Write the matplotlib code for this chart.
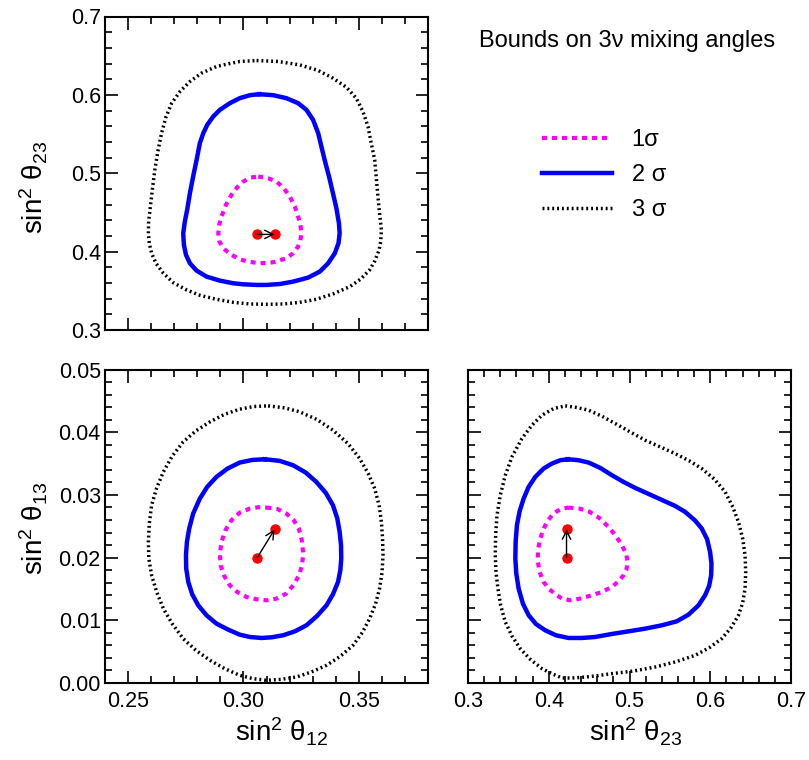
import numpy as np
import matplotlib
matplotlib.use('Agg')
import matplotlib.pyplot as plt
from matplotlib.ticker import MultipleLocator, FormatStrFormatter

plt.rcParams['font.family'] = ['Liberation Sans', 'DejaVu Sans']
plt.rcParams['mathtext.fontset'] = 'custom'
plt.rcParams['mathtext.rm'] = 'Liberation Sans'
plt.rcParams['mathtext.it'] = 'Liberation Sans:italic'

# best fit points, old -> new
s12_fit = [0.306, 0.3135]
s23_fit = [0.422, 0.422]
s13_fit = [0.0200, 0.0245]

sigma_labels = ['1\u03c3', '2 \u03c3', '3 \u03c3']

# --- sin^2 th12 (x) vs sin^2 th23 (y) ---
a_1s_x = [0.3064, 0.3107, 0.3143, 0.3175, 0.3201, 0.3223, 0.3237, 0.3247, 0.3251, 0.3247,
          0.3237, 0.3215, 0.3186, 0.3129, 0.3071, 0.3020, 0.2984, 0.2944, 0.2912, 0.2895,
          0.2891, 0.2895, 0.2905, 0.2924, 0.2948, 0.2973, 0.2999, 0.3031]
a_1s_y = [0.4958, 0.4936, 0.4894, 0.4809, 0.4702, 0.4575, 0.4447, 0.4341, 0.4234, 0.4141,
          0.4064, 0.3979, 0.3915, 0.3864, 0.3851, 0.3873, 0.3902, 0.3966, 0.4043, 0.4136,
          0.4234, 0.4341, 0.4447, 0.4596, 0.4724, 0.4821, 0.4894, 0.4945]
a_2s_x = [0.3068, 0.3129, 0.3186, 0.3237, 0.3273, 0.3302, 0.3324, 0.3338, 0.3352, 0.3371,
          0.3388, 0.3403, 0.3414, 0.3417, 0.3412, 0.3396, 0.3367, 0.3331, 0.3280, 0.3215,
          0.3158, 0.3100, 0.3057, 0.2999, 0.2956, 0.2898, 0.2840, 0.2797, 0.2768, 0.2751,
          0.2742, 0.2739, 0.2746, 0.2756, 0.2768, 0.2782, 0.2797, 0.2811, 0.2826, 0.2843,
          0.2869, 0.2898, 0.2941, 0.2984, 0.3028]
a_2s_y = [0.6009, 0.5996, 0.5958, 0.5894, 0.5809, 0.5681, 0.5511, 0.5340, 0.5170, 0.4958,
          0.4745, 0.4553, 0.4362, 0.4234, 0.4107, 0.3979, 0.3851, 0.3745, 0.3668, 0.3617,
          0.3587, 0.3575, 0.3575, 0.3583, 0.3596, 0.3630, 0.3681, 0.3758, 0.3851, 0.3958,
          0.4085, 0.4234, 0.4383, 0.4532, 0.4745, 0.4958, 0.5170, 0.5383, 0.5511, 0.5617,
          0.5724, 0.5809, 0.5894, 0.5958, 0.5996]
a_3s_x = [0.3057, 0.3150, 0.3244, 0.3324, 0.3388, 0.3446, 0.3489, 0.3518, 0.3540, 0.3554,
          0.3569, 0.3576, 0.3583, 0.3590, 0.3598, 0.3595, 0.3588, 0.3570, 0.3547, 0.3507,
          0.3461, 0.3388, 0.3316, 0.3244, 0.3172, 0.3100, 0.3028, 0.2956, 0.2883, 0.2811,
          0.2754, 0.2696, 0.2653, 0.2621, 0.2602, 0.2592, 0.2588, 0.2589, 0.2595, 0.2605,
          0.2616, 0.2629, 0.2645, 0.2664, 0.2689, 0.2725, 0.2768, 0.2818, 0.2883, 0.2934,
          0.2984]
a_3s_y = [0.6438, 0.6426, 0.6383, 0.6311, 0.6213, 0.6098, 0.5958, 0.5787, 0.5596, 0.5383,
          0.5170, 0.4936, 0.4702, 0.4490, 0.4277, 0.4128, 0.4021, 0.3885, 0.3766, 0.3647,
          0.3553, 0.3460, 0.3392, 0.3353, 0.3332, 0.3328, 0.3332, 0.3353, 0.3392, 0.3443,
          0.3511, 0.3604, 0.3724, 0.3851, 0.3979, 0.4107, 0.4234, 0.4383, 0.4532, 0.4787,
          0.5043, 0.5277, 0.5511, 0.5715, 0.5894, 0.6043, 0.6170, 0.6277, 0.6362, 0.6396,
          0.6426]

# --- sin^2 th12 (x) vs sin^2 th13 (y) ---
b_1s_x = [0.3100, 0.3146, 0.3186, 0.3218, 0.3240, 0.3253, 0.3259, 0.3254, 0.3241, 0.3218,
          0.3186, 0.3143, 0.3100, 0.3057, 0.3013, 0.2973, 0.2941, 0.2917, 0.2901, 0.2898,
          0.2905, 0.2922, 0.2948, 0.2984, 0.3028, 0.3064]
b_1s_y = [0.02798, 0.02777, 0.02702, 0.02596, 0.02463, 0.02277, 0.02064, 0.01878, 0.01718,
          0.01569, 0.01426, 0.01346, 0.01319, 0.01335, 0.01372, 0.01452, 0.01558, 0.01707,
          0.01878, 0.02064, 0.02250, 0.02436, 0.02596, 0.02718, 0.02782, 0.02803]
b_2s_x = [0.3093, 0.3158, 0.3215, 0.3270, 0.3316, 0.3357, 0.3388, 0.3407, 0.3417, 0.3423,
          0.3424, 0.3420, 0.3410, 0.3388, 0.3360, 0.3319, 0.3273, 0.3223, 0.3172, 0.3122,
          0.3078, 0.3028, 0.2984, 0.2934, 0.2883, 0.2840, 0.2804, 0.2778, 0.2761, 0.2752,
          0.2751, 0.2755, 0.2765, 0.2782, 0.2811, 0.2843, 0.2883, 0.2931, 0.2984, 0.3039]
b_2s_y = [0.03569, 0.03542, 0.03473, 0.03356, 0.03207, 0.03032, 0.02835, 0.02622, 0.02410,
          0.02197, 0.01984, 0.01798, 0.01612, 0.01415, 0.01239, 0.01069, 0.00920, 0.00824,
          0.00761, 0.00729, 0.00718, 0.00734, 0.00771, 0.00851, 0.00947, 0.01080, 0.01239,
          0.01415, 0.01612, 0.01824, 0.02037, 0.02250, 0.02463, 0.02702, 0.02941, 0.03128,
          0.03287, 0.03420, 0.03516, 0.03558]
b_3s_x = [0.3107, 0.3179, 0.3244, 0.3319, 0.3388, 0.3453, 0.3504, 0.3541, 0.3569, 0.3588,
          0.3598, 0.3603, 0.3605, 0.3601, 0.3590, 0.3573, 0.3547, 0.3515, 0.3475, 0.3420,
          0.3360, 0.3295, 0.3230, 0.3165, 0.3100, 0.3042, 0.2984, 0.2919, 0.2855, 0.2794,
          0.2739, 0.2693, 0.2653, 0.2624, 0.2602, 0.2590, 0.2588, 0.2592, 0.2602, 0.2624,
          0.2653, 0.2691, 0.2739, 0.2794, 0.2855, 0.2919, 0.2984, 0.3045]
b_3s_y = [0.04420, 0.04388, 0.04324, 0.04202, 0.04032, 0.03819, 0.03580, 0.03340, 0.03101,
          0.02835, 0.02569, 0.02303, 0.02037, 0.01771, 0.01505, 0.01266, 0.01027, 0.00803,
          0.00601, 0.00426, 0.00282, 0.00176, 0.00096, 0.00059, 0.00043, 0.00069, 0.00122,
          0.00229, 0.00362, 0.00521, 0.00707, 0.00936, 0.01186, 0.01452, 0.01718, 0.01984,
          0.02250, 0.02543, 0.02835, 0.03112, 0.03367, 0.03617, 0.03846, 0.04021, 0.04165,
          0.04287, 0.04367, 0.04410]

# --- sin^2 th23 (x) vs sin^2 th13 (y) ---
c_1s_x = [0.4245, 0.4377, 0.4493, 0.4625, 0.4740, 0.4831, 0.4905, 0.4959, 0.4975, 0.4963,
          0.4926, 0.4864, 0.4782, 0.4658, 0.4534, 0.4390, 0.4266, 0.4163, 0.4101, 0.4006,
          0.3936, 0.3887, 0.3866, 0.3866, 0.3883, 0.3924, 0.3977, 0.4039, 0.4101, 0.4171]
c_1s_y = [0.02798, 0.02782, 0.02739, 0.02633, 0.02489, 0.02346, 0.02197, 0.02064, 0.01931,
          0.01814, 0.01718, 0.01622, 0.01532, 0.01452, 0.01399, 0.01346, 0.01319, 0.01346,
          0.01399, 0.01495, 0.01612, 0.01771, 0.01931, 0.02090, 0.02250, 0.02420, 0.02569,
          0.02675, 0.02739, 0.02782]
c_2s_x = [0.4237, 0.4369, 0.4493, 0.4637, 0.4782, 0.4926, 0.5070, 0.5235, 0.5400, 0.5565,
          0.5689, 0.5813, 0.5895, 0.5961, 0.5998, 0.6015, 0.6011, 0.5986, 0.5936, 0.5854,
          0.5730, 0.5586, 0.5400, 0.5194, 0.4988, 0.4782, 0.4575, 0.4410, 0.4245, 0.4089,
          0.3957, 0.3841, 0.3751, 0.3680, 0.3627, 0.3598, 0.3586, 0.3590, 0.3606, 0.3639,
          0.3689, 0.3751, 0.3833, 0.3936, 0.4039, 0.4142]
c_2s_y = [0.03569, 0.03553, 0.03516, 0.03431, 0.03314, 0.03207, 0.03112, 0.03016, 0.02920,
          0.02824, 0.02729, 0.02590, 0.02463, 0.02293, 0.02090, 0.01904, 0.01718, 0.01548,
          0.01399, 0.01239, 0.01090, 0.00984, 0.00920, 0.00867, 0.00824, 0.00782, 0.00734,
          0.00718, 0.00718, 0.00761, 0.00840, 0.00941, 0.01080, 0.01266, 0.01505, 0.01745,
          0.01984, 0.02250, 0.02516, 0.02739, 0.02941, 0.03128, 0.03287, 0.03420, 0.03500,
          0.03553]
c_3s_x = [0.4204, 0.4349, 0.4493, 0.4658, 0.4823, 0.5008, 0.5194, 0.5380, 0.5565, 0.5742,
          0.5895, 0.6052, 0.6184, 0.6279, 0.6349, 0.6402, 0.6431, 0.6439, 0.6431, 0.6402,
          0.6349, 0.6258, 0.6142, 0.5990, 0.5813, 0.5565, 0.5318, 0.5050, 0.4782, 0.4575,
          0.4410, 0.4287, 0.4163, 0.4039, 0.3916, 0.3771, 0.3647, 0.3544, 0.3462, 0.3404,
          0.3371, 0.3346, 0.3338, 0.3342, 0.3359, 0.3400, 0.3462, 0.3544, 0.3668, 0.3792,
          0.3916, 0.4060]
c_3s_y = [0.04420, 0.04394, 0.04351, 0.04255, 0.04138, 0.04005, 0.03872, 0.03766, 0.03659,
          0.03542, 0.03420, 0.03250, 0.03048, 0.02808, 0.02569, 0.02303, 0.02037, 0.01771,
          0.01505, 0.01282, 0.01080, 0.00883, 0.00707, 0.00564, 0.00441, 0.00335, 0.00255,
          0.00191, 0.00149, 0.00112, 0.00090, 0.00080, 0.00080, 0.00149, 0.00229, 0.00378,
          0.00548, 0.00750, 0.00973, 0.01239, 0.01505, 0.01771, 0.02037, 0.02356, 0.02675,
          0.02995, 0.03314, 0.03606, 0.03899, 0.04112, 0.04271, 0.04377]

styles = [dict(color='#ff00ff', lw=3.0, ls=(0, (1.2, 1.2)), dash_capstyle='butt'),
          dict(color='#0000ff', lw=3.2, ls='-', solid_joinstyle='round'),
          dict(color='black', lw=2.5, ls=(0, (0.55, 0.85)), dash_capstyle='butt')]


def draw_panel(ax, contours, px, py):
    lines = []
    for (cx, cy), st, lab in zip(contours, styles, sigma_labels):
        cx = np.append(cx, cx[0])
        cy = np.append(cy, cy[0])
        ln, = ax.plot(cx, cy, label=lab, **st)
        lines.append(ln)
    ax.plot(px, py, 'o', color='red', ms=6.5, mec='red', zorder=5)
    ax.annotate('', xy=(px[1], py[1]), xytext=(px[0], py[0]),
                arrowprops=dict(arrowstyle='->', lw=1.0, color='black',
                                shrinkA=0, shrinkB=0, mutation_scale=15), zorder=6)
    ax.tick_params(which='both', direction='in', top=True, right=True,
                   width=1.2, labelsize=15.5)
    ax.tick_params(which='major', length=9)
    ax.tick_params(which='minor', length=5)
    ax.tick_params(axis='x', pad=6)
    ax.tick_params(axis='y', pad=3)
    for s in ax.spines.values():
        s.set_linewidth(1.5)
    return lines


fig = plt.figure(figsize=(8.09, 7.6), dpi=100)
W, H = 809, 760
ax1 = fig.add_axes([105 / W, 1 - 330 / H, 323 / W, 313.5 / H])
ax2 = fig.add_axes([105 / W, 1 - 683 / H, 323 / W, 313.5 / H])
ax3 = fig.add_axes([468 / W, 1 - 683 / H, 323 / W, 313.5 / H])

handles = draw_panel(ax1, [(a_1s_x, a_1s_y), (a_2s_x, a_2s_y), (a_3s_x, a_3s_y)],
                     s12_fit, s23_fit)
draw_panel(ax2, [(b_1s_x, b_1s_y), (b_2s_x, b_2s_y), (b_3s_x, b_3s_y)], s12_fit, s13_fit)
draw_panel(ax3, [(c_1s_x, c_1s_y), (c_2s_x, c_2s_y), (c_3s_x, c_3s_y)], s23_fit, s13_fit)

for ax in (ax1, ax2):
    ax.set_xlim(0.24, 0.38)
    ax.xaxis.set_major_locator(MultipleLocator(0.05))
    ax.xaxis.set_minor_locator(MultipleLocator(0.01))
    ax.xaxis.set_major_formatter(FormatStrFormatter('%.2f'))
ax1.set_ylim(0.3, 0.7)
ax1.yaxis.set_major_locator(MultipleLocator(0.1))
ax1.yaxis.set_minor_locator(MultipleLocator(0.02))
ax1.yaxis.set_major_formatter(FormatStrFormatter('%.1f'))
ax1.tick_params(labelbottom=False)

for ax in (ax2, ax3):
    ax.set_ylim(0.0, 0.05)
    ax.yaxis.set_major_locator(MultipleLocator(0.01))
    ax.yaxis.set_minor_locator(MultipleLocator(0.002))
    ax.yaxis.set_major_formatter(FormatStrFormatter('%.2f'))
ax3.set_xlim(0.3, 0.7)
ax3.xaxis.set_major_locator(MultipleLocator(0.1))
ax3.xaxis.set_minor_locator(MultipleLocator(0.02))
ax3.xaxis.set_major_formatter(FormatStrFormatter('%.1f'))
ax3.tick_params(labelleft=False)

lab_fs = 20
ax1.set_ylabel('$\\mathregular{sin^2\\ \u03b8_{23}}$', fontsize=lab_fs)
ax1.yaxis.set_label_coords(-0.17, 0.4565)
ax2.set_ylabel('$\\mathregular{sin^2\\ \u03b8_{13}}$', fontsize=lab_fs)
ax2.yaxis.set_label_coords(-0.17, 0.494)
ax2.set_xlabel('$\\mathregular{sin^2\\ \u03b8_{12}}$', fontsize=lab_fs)
ax2.xaxis.set_label_coords(0.548, -0.105)
ax3.set_xlabel('$\\mathregular{sin^2\\ \u03b8_{23}}$', fontsize=lab_fs)
ax3.xaxis.set_label_coords(0.52, -0.105)

fig.text(627 / W, 1 - 47 / H, 'Bounds on 3\u03bd mixing angles', ha='center',
         va='baseline', fontsize=17)
fig.legend(handles=handles, loc='upper left', bbox_to_anchor=(542 / W, 1 - 129 / H),
           frameon=False, fontsize=17, handlelength=2.95, handletextpad=0.85,
           labelspacing=0.55, borderpad=0, borderaxespad=0)

fig.savefig('out.png', dpi=100)
